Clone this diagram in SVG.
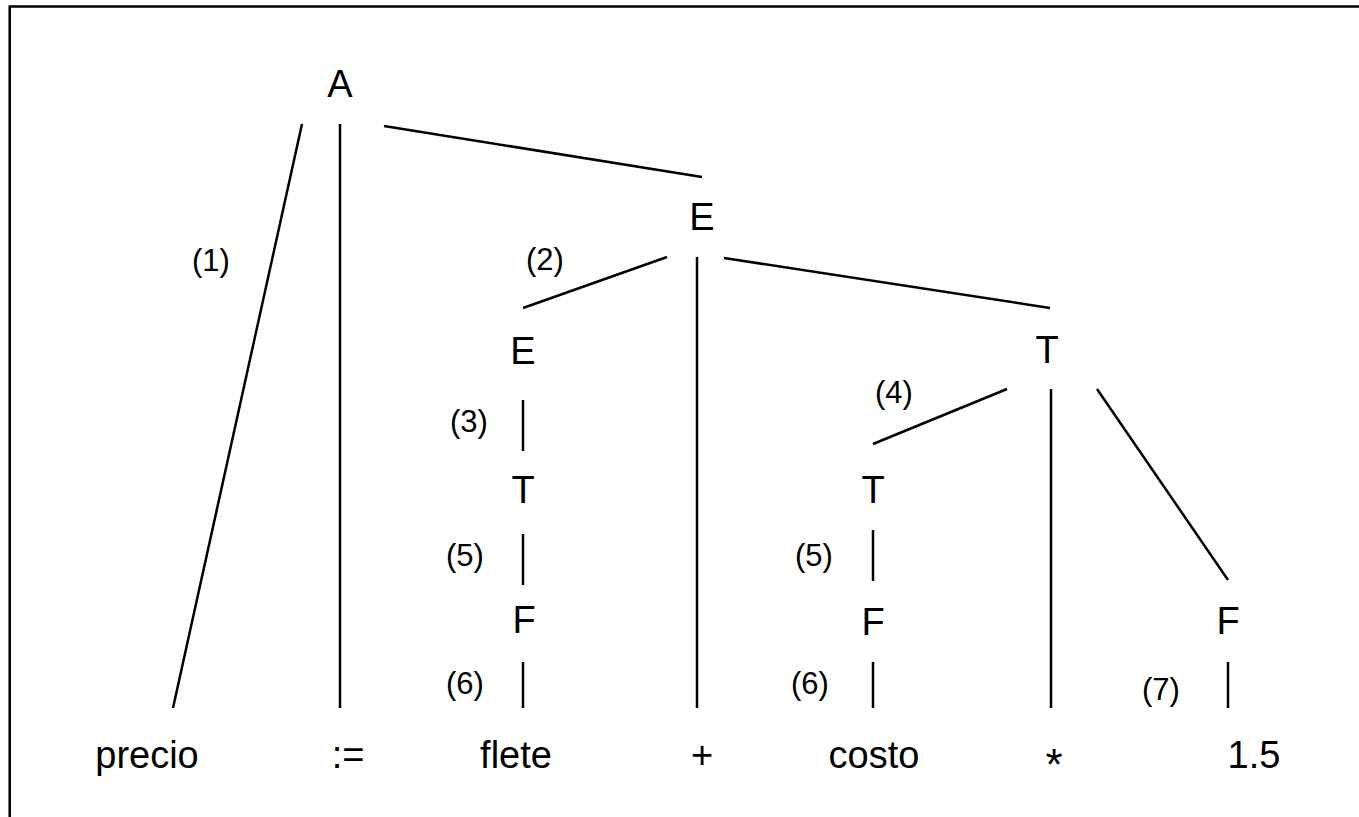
<svg xmlns="http://www.w3.org/2000/svg" width="1359" height="817" viewBox="0 0 1359 817">
<style>
.n{font-family:"Liberation Sans",Arial,sans-serif;font-size:38px;text-anchor:middle;fill:#000}
.l{font-family:"Liberation Sans",Arial,sans-serif;font-size:31px;text-anchor:middle;fill:#000}
.e{stroke:#000;stroke-width:2.5;fill:none}
</style>
<rect width="1359" height="817" fill="#fff"/>
<path d="M9.7,817 V6.5 H1359" stroke="#000" stroke-width="2.5" fill="none"/>
<g id="connectors">
<line class="e" x1="302" y1="124" x2="173" y2="708"/>
<line class="e" x1="340" y1="124" x2="340" y2="708"/>
<line class="e" x1="384" y1="126" x2="702" y2="177"/>
<line class="e" x1="667" y1="257" x2="523" y2="308"/>
<line class="e" x1="697" y1="257" x2="697" y2="708"/>
<line class="e" x1="724" y1="258" x2="1050" y2="308"/>
<line class="e" x1="523" y1="400" x2="523" y2="451"/>
<line class="e" x1="523" y1="534" x2="523" y2="585"/>
<line class="e" x1="523" y1="662" x2="523" y2="708"/>
<line class="e" x1="1007" y1="389" x2="873" y2="444"/>
<line class="e" x1="1051" y1="389" x2="1051" y2="708"/>
<line class="e" x1="1097" y1="389" x2="1228" y2="580"/>
<line class="e" x1="873" y1="530" x2="873" y2="581"/>
<line class="e" x1="873" y1="662" x2="873" y2="708"/>
<line class="e" x1="1228" y1="662" x2="1228" y2="708"/>
</g>
<g id="labels">
<text class="l" x="211" y="271">(1)</text>
<text class="l" x="545" y="270">(2)</text>
<text class="l" x="469" y="432">(3)</text>
<text class="l" x="894" y="403">(4)</text>
<text class="l" x="465" y="566">(5)</text>
<text class="l" x="814" y="566">(5)</text>
<text class="l" x="465" y="694">(6)</text>
<text class="l" x="810" y="694">(6)</text>
<text class="l" x="1161" y="700">(7)</text>
</g>
<g id="node-A"><text class="n" x="340" y="97">A</text></g>
<g id="node-E1"><text class="n" x="702" y="230">E</text></g>
<g id="node-E2"><text class="n" x="523" y="364">E</text></g>
<g id="node-T1"><text class="n" x="1047" y="363">T</text></g>
<g id="node-T2"><text class="n" x="523" y="503">T</text></g>
<g id="node-T3"><text class="n" x="873" y="503">T</text></g>
<g id="node-F1"><text class="n" x="524" y="633">F</text></g>
<g id="node-F2"><text class="n" x="873" y="635">F</text></g>
<g id="node-F3"><text class="n" x="1228" y="634">F</text></g>
<g id="leaf-precio"><text class="n" x="147" y="768">precio</text></g>
<g id="leaf-assign"><text class="n" x="348" y="768">:=</text></g>
<g id="leaf-flete"><text class="n" x="516" y="768">flete</text></g>
<g id="leaf-plus"><text class="n" x="702" y="768">+</text></g>
<g id="leaf-costo"><text class="n" x="874" y="768">costo</text></g>
<g id="leaf-times"><text class="n" x="1054" y="780" style="font-size:44px">*</text></g>
<g id="leaf-num"><text class="n" x="1254" y="768">1.5</text></g>
</svg>
